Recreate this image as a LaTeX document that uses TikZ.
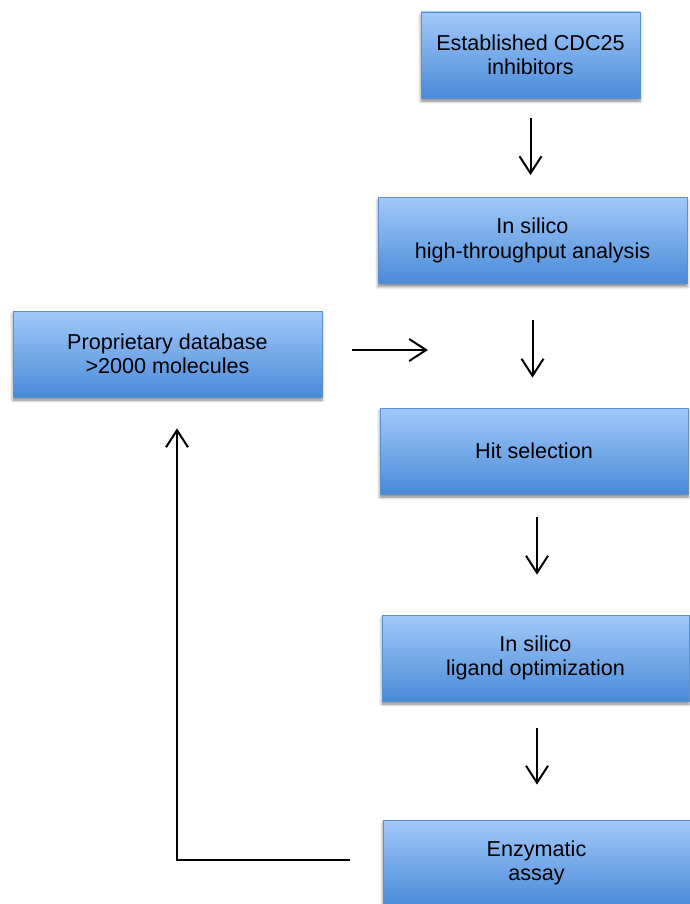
\documentclass[tikz,border=0pt]{standalone}
\usepackage{fontspec}
\setmainfont{Liberation Sans}
\usepackage{xcolor}
\usetikzlibrary{positioning, arrows.meta, shadows.blur}

\definecolor{boxtop}{HTML}{A2C9FA}
\definecolor{boxbot}{HTML}{4A8AD8}
\definecolor{boxline}{HTML}{5B8FD0}

\begin{document}
\begin{tikzpicture}[x=1pt,y=-1pt,thick,
			flow/.style={-{Straight Barb[length=17pt,width=22pt,line width=2pt]},line width=2pt},
			main box/.style={rectangle,draw=boxline,line width=0.8pt,top color=boxtop,bottom color=boxbot,
				minimum width=307pt,minimum height=86pt,align=center,
				font=\fontsize{21.6}{24.5}\selectfont,
				blur shadow={shadow xshift=0pt,shadow yshift=-3pt,shadow blur radius=3pt,shadow opacity=50}}]
			
			\useasboundingbox (0,0) rectangle (690,904);
			
			\node[main box,minimum width=219pt] (est) at (530.5,55) {Established CDC25\\inhibitors};
			\node[main box,minimum width=309pt] (silico) at (532.5,240.5) {In silico\\high-throughput analysis};
			\node[main box,minimum width=309pt] (db) at (167.5,354) {Proprietary database\\>2000 molecules};
			\node[main box,minimum width=308pt] (hit) at (534,451) {Hit selection};
			\node[main box] (ligand) at (535.5,658) {In silico\\ligand optimization};
			\node[main box] (assay) at (536.5,863) {Enzymatic\\assay};
			\coordinate (dbtip) at (428,354);
			
			\draw[flow,shorten <=20pt,shorten >=22pt] (est.south) -- (est.south |- silico.north);
			\draw[flow,shorten <=36pt,shorten >=30pt] (silico.south) -- (silico.south |- hit.north);
			\draw[flow,shorten <=23pt,shorten >=40pt] ([xshift=3pt]hit.south) -- ([xshift=3pt]hit.south |- ligand.north);
			\draw[flow,shorten <=27pt,shorten >=35pt] ([xshift=1.5pt]ligand.south) -- ([xshift=1.5pt]ligand.south |- assay.north);
			\draw[flow,shorten <=30pt] ([yshift=4pt]db.east) -- ([yshift=4pt]dbtip);
			\draw[flow,shorten <=33pt,shorten >=31pt] ([yshift=3pt]assay.west) -| ([xshift=9.5pt]db.south);
		\end{tikzpicture}
\end{document}
